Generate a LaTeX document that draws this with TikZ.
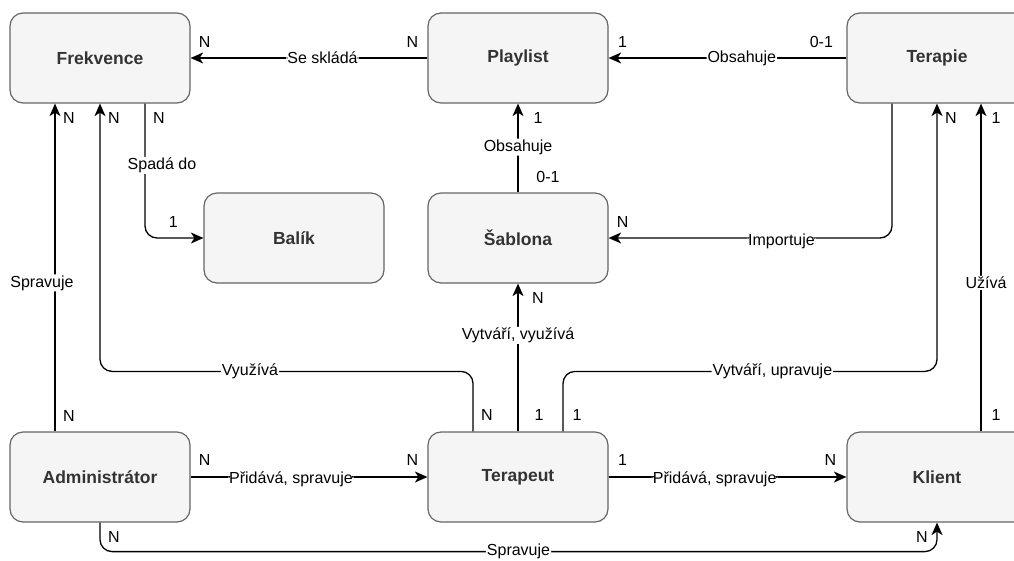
\documentclass[tikz,border=0pt]{standalone}
\usepackage{fontspec}
\setmainfont{Liberation Sans}
\usetikzlibrary{arrows.meta}
\definecolor{boxfill}{HTML}{F5F5F5}
\definecolor{boxline}{HTML}{666666}
\definecolor{boxtext}{HTML}{333333}
\begin{document}
\begin{tikzpicture}[x=1pt,y=-1pt,
  entity/.style={draw=boxline, fill=boxfill, line width=1.2pt, rounded corners=13pt,
    minimum width=180pt, minimum height=90pt, inner sep=0pt, text=boxtext,
    font=\fontsize{17.5}{21}\selectfont\bfseries},
  rel/.style={line width=1.3pt, rounded corners=12pt},
  arr/.style={rel, -{Stealth[length=12.5pt,width=11pt,inset=3.5pt]}},
  lbl/.style={fill=white, inner sep=1pt, font=\fontsize{16}{19}\selectfont, text=black},
  card/.style={inner sep=0pt, font=\fontsize{16}{19}\selectfont},
]
\useasboundingbox (0,0) rectangle (1014,560);
\clip (0,0) rectangle (1014,560);

% entities
\node[entity] (frek)   at (100,58)  {Frekvence};
\node[entity] (play)   at (518,58)  {Playlist};
\node[entity] (terap)  at (937,58)  {Terapie};
\node[entity] (balik)  at (294,238) {Balík};
\node[entity] (sabl)   at (518,238) {Šablona};
\node[entity] (adm)    at (100,477) {Administrátor};
\node[entity] (tera)   at (518,477) {Terapeut};
\node[entity] (klient) at (937,477) {Klient};

% relationships
\draw[arr] (play.west) -- node[lbl,pos=0.443]{Se skládá}
  node[card,pos=0,xshift=-15pt,yshift=16pt]{N}
  node[card,pos=1,xshift=14pt,yshift=16pt]{N} (frek.east);

\draw[arr] (terap.west) -- node[lbl,pos=0.44]{Obsahuje}
  node[card,pos=0,xshift=-25pt,yshift=16pt]{0-1}
  node[card,pos=1,xshift=14pt,yshift=16pt]{1} (play.east);

\draw[arr] (sabl.north) -- node[lbl,pos=0.51]{Obsahuje}
  node[card,pos=0,xshift=30pt,yshift=15pt]{0-1}
  node[card,pos=1,xshift=20pt,yshift=-14pt]{1} (play.south);

\draw[arr] ([xshift=45pt]frek.south) |- node[lbl,pos=0.23,xshift=17pt]{Spadá do}
  node[card,pos=0,xshift=14pt,yshift=-14pt]{N}
  node[card,pos=1,xshift=-30pt,yshift=16pt]{1} (balik.west);

\draw[arr] ([xshift=-45pt]terap.south) |- node[lbl,pos=0.695,yshift=-3pt]{Importuje}
  node[card,pos=1,xshift=14pt,yshift=16pt]{N} (sabl.east);

\draw[arr] ([xshift=-45pt]adm.north) -- node[lbl,pos=0.453,xshift=-13pt]{Spravuje}
  node[card,pos=0,xshift=14pt,yshift=15pt]{N}
  node[card,pos=1,xshift=14pt,yshift=-14pt]{N} ([xshift=-45pt]frek.south);

\draw[arr] ([xshift=-45pt]tera.north) node[card,xshift=14pt,yshift=16pt]{N}
  -- ++(0,-60) -| node[lbl,pos=0.299]{Využívá}
  node[card,pos=1,xshift=14pt,yshift=-14pt]{N} (frek.south);

\draw[arr] (tera.north) -- node[lbl,pos=0.65]{Vytváří, využívá}
  node[card,pos=0,xshift=21pt,yshift=16pt]{1}
  node[card,pos=1,xshift=20pt,yshift=-14pt]{N} (sabl.south);

\draw[arr] ([xshift=45pt]tera.north) node[card,xshift=14pt,yshift=16pt]{1}
  -- ++(0,-60) -| node[lbl,pos=0.28]{Vytváří, upravuje}
  node[card,pos=1,xshift=14pt,yshift=-14pt]{N} (terap.south);

\draw[arr] ([xshift=44pt]klient.north) -- node[lbl,pos=0.453,xshift=5pt]{Užívá}
  node[card,pos=0,xshift=15pt,yshift=16pt]{1}
  node[card,pos=1,xshift=15pt,yshift=-14pt]{1} ([xshift=44pt]terap.south);

\draw[arr] (adm.east) -- node[lbl,pos=0.424,yshift=-2.5pt]{Přidává, spravuje}
  node[card,pos=0,xshift=14pt,yshift=17pt]{N}
  node[card,pos=1,xshift=-15pt,yshift=17pt]{N} (tera.west);

\draw[arr] (tera.east) -- node[lbl,pos=0.446,yshift=-2.5pt]{Přidává, spravuje}
  node[card,pos=0,xshift=14pt,yshift=17pt]{1}
  node[card,pos=1,xshift=-16pt,yshift=17pt]{N} (klient.west);

\draw[arr] (adm.south) node[card,xshift=14pt,yshift=-14pt]{N}
  -- ++(0,29) -| node[lbl,pos=0.25]{Spravuje}
  node[card,pos=1,xshift=-15pt,yshift=-14pt]{N} (klient.south);
\end{tikzpicture}
\end{document}
